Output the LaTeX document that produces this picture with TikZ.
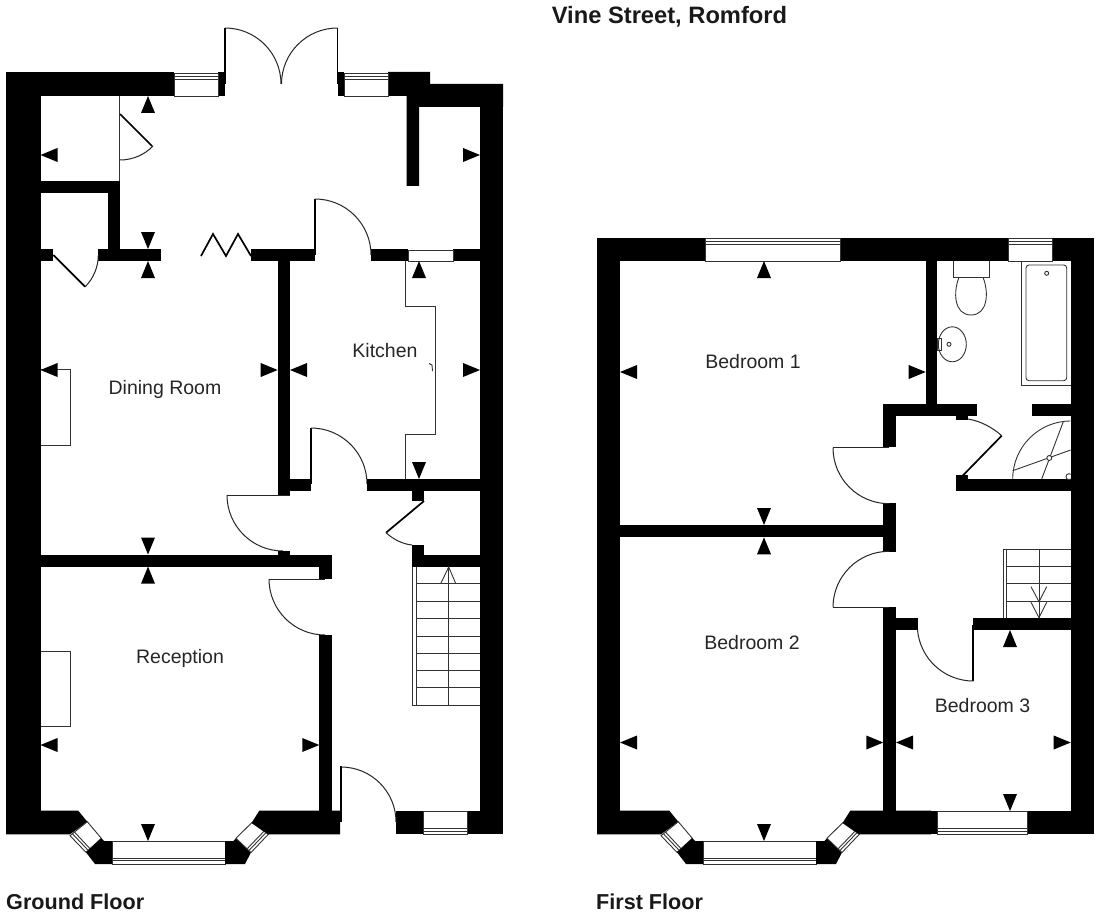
\documentclass[tikz,border=0pt]{standalone}
\usepackage{fontspec}
\setmainfont{Liberation Sans}
\usetikzlibrary{calc}
\tikzset{
  wall/.style={fill=black,draw=none},
  fine/.style={draw=black!80,line width=0.9pt},
  doorarc/.style={draw=black!85,line width=1pt},
  leaf/.style={draw=black,line width=1.7pt},
  zig/.style={draw=black,line width=1.7pt,line join=miter},
  markhead/.style={fill=black,draw=none},
  roomlabel/.style={inner sep=0pt,text=black!85,font=\fontsize{19.5}{22}\selectfont},
  floorlabel/.style={inner sep=0pt,anchor=west,text=black!90,font=\bfseries\fontsize{21.6}{24}\selectfont},
}
% wall rectangle
\newcommand\wl[4]{\fill[wall] (#1,#2) rectangle (#3,#4);}
% sight-line arrowhead: tip x, tip y, direction
\newcommand\hd[3]{\fill[markhead,shift={(#1,#2)},rotate=#3] (0,0) -- (-17,-7) -- (-17,7) -- cycle;}
% door swing: centre x, centre y, radius, from angle, to angle
\newcommand\sw[5]{\draw[doorarc] (#1,#2) ++(#4:#3) arc[start angle=#4,end angle=#5,radius=#3];}
% window: inner edge A B, outer edge D C (A-D, B-C are the jambs)
\newcommand\win[4]{%
  \draw[fine,fill=white] #1 -- #2 -- #3 -- #4 -- cycle;
  \draw[fine] ($#1!0.74!#4$) -- ($#2!0.74!#3$);
  \draw[fine] ($#1!0.86!#4$) -- ($#2!0.86!#3$);
}
% bay of the front room
\newcommand\bay{%
  \fill[wall] (6,810.7) -- (78.3,810.7) -- (87.3,821.7) -- (70,834.3) -- (6,834.3) -- cycle;
  \win{(87.3,821.7)}{(101.3,838.3)}{(86,852.3)}{(70,835.7)}
  \fill[wall] (101.3,838.3) -- (104.3,841) -- (112.7,841) -- (112.7,864) -- (95,864) -- (86,852.3) -- cycle;
  \win{(112.7,841)}{(225,841)}{(225,864)}{(112.7,864)}
  \fill[wall] (225,841) -- (233.4,841) -- (236,838.3) -- (251,852.5) -- (245,864) -- (225,864) -- cycle;
  \win{(251.7,822.7)}{(236,838.3)}{(251,852.5)}{(268.3,834.3)}
  \fill[wall] (259.3,810.7) -- (251.7,822.7) -- (268.3,834.3) -- (340,834.3) -- (340,810.7) -- cycle;
}
\begin{document}
\begin{tikzpicture}[x=1pt,y=-1pt]
\useasboundingbox (0,0) rectangle (1100,920);
\fill[white] (0,0) rectangle (1100,920);

% ===== GROUND FLOOR =====
\wl{6}{72}{40.5}{834.3}
\wl{40}{72}{174}{96}
\wl{218}{72}{225}{96}
\wl{337.5}{72}{344}{96}
\fill[wall] (388,72) -- (430,72) -- (430,84) -- (503,84) -- (503,107) -- (419,107) -- (419,186) -- (406.5,186) -- (406.5,96) -- (388,96) -- cycle;
\wl{480}{84}{503}{834.3}
\win{(174,96)}{(218,96)}{(218,73)}{(174,73)}
\win{(344,96)}{(388,96)}{(388,73)}{(344,73)}
% double doors
\draw[leaf] (225,84) -- (225,28);
\draw[leaf] (337.5,84) -- (337.5,28);
\sw{225}{84}{56}{-90}{0}
\sw{337.5}{84}{56}{-90}{-180}
% cupboards
\draw[fine] (119.5,96) -- (119.5,181);
\wl{40}{181}{120}{193.5}
\wl{107.7}{181}{120}{261}
\wl{40}{249}{53.3}{261}
\wl{97.7}{249}{161}{261}
\draw[leaf] (120,114) -- (152,146);
\sw{120}{114}{46}{90}{44}
\draw[leaf] (53.3,255) -- (85,286.7);
\sw{53.3}{255}{45}{45}{0}
% bifold
\draw[zig] (201,256) -- (213,234) -- (226,256) -- (238,234) -- (251,256);
% dining / kitchen walls
\wl{250.7}{249}{315}{261}
\wl{277.7}{261}{290}{495}
\wl{290}{479}{311}{490.7}
\wl{371}{249}{408.3}{261}
\wl{453}{249}{480}{261}
\draw[fine,fill=white] (408.3,250) rectangle (453,261);
\draw[leaf] (315,255) -- (315,198.7);
\sw{315}{255}{56}{-90}{0}
\draw[leaf] (311,484) -- (311,428);
\sw{311}{484}{56}{-90}{0}
\wl{366.7}{479}{480}{490.7}
\wl{411.7}{490}{424}{501}
\draw[leaf] (424,501) -- (386,532.7);
\draw[doorarc] (386,532.7) .. controls (393,539) and (402,544) .. (412,545);
\wl{412}{545}{424}{566.6}
\wl{412}{554.5}{480}{566.6}
% hall doors
\draw[doorarc] (226.7,495) -- (290,495);
\sw{283}{495}{56}{180}{90}
\wl{278}{551}{290}{555}
\wl{40}{554.5}{331.5}{566.6}
\wl{319.3}{566}{331.5}{579}
\draw[doorarc] (268.7,579) -- (325,579);
\sw{325}{579}{56}{180}{90}
\wl{319.3}{635}{331.5}{811}
% bay & front
\bay
\wl{396}{811}{423}{834.3}
\wl{467}{811}{503}{834.3}
\win{(423,811)}{(467,811)}{(467,834.3)}{(423,834.3)}
\draw[leaf] (341,822) -- (341,766);
\sw{341}{822}{55}{-90}{0}
% kitchen worktop
\draw[fine] (405,261) -- (405,306) -- (435,306) -- (435,434) -- (405,434) -- (405,479);
\draw[fine] (429,363.5) -- (432,365) -- (432.5,371);
% fireplaces
\draw[fine] (40.5,651) -- (70.7,651) -- (70.7,726.3) -- (40.5,726.3);
\draw[fine] (40.5,369) -- (70.7,369) -- (70.7,445) -- (40.5,445);
% stairs
\draw[fine] (412.3,566.6) -- (412.3,705) -- (480,705);
\draw[fine] (416.3,566.6) -- (416.3,705);
\foreach \ty in {583.3,601,618.3,636,653.3,670.7,687.3}
  \draw[fine] (416.3,\ty) -- (480,\ty);
\draw[fine] (448.7,705) -- (448.7,567);
\draw[fine] (441,583) -- (448.7,567) -- (455.5,583);
% sight marks
\hd{148}{96}{90}
\hd{40.5}{155}{180}
\hd{480}{155}{0}
\hd{148}{249}{-90}
\hd{148}{261}{90}
\hd{419}{261}{90}
\hd{277.7}{370}{0}
\hd{290}{370}{180}
\hd{480}{370}{0}
\hd{419}{479}{-90}
\hd{40.5}{370}{180}
\hd{148}{554.5}{-90}
\hd{148}{566.6}{90}
\hd{40.5}{745}{180}
\hd{319.3}{745}{0}
\hd{148}{841}{-90}

% ===== FIRST FLOOR =====
\wl{596.7}{237.7}{620}{834.3}
\wl{620}{237.7}{705}{261}
\wl{840}{237.7}{1008.3}{261}
\wl{1052.7}{237.7}{1094.3}{261}
\wl{1070.7}{237.7}{1094.3}{834.3}
\win{(705,261)}{(840,261)}{(840,238)}{(705,238)}
\win{(1008.3,261)}{(1052.7,261)}{(1052.7,238)}{(1008.3,238)}
\begin{scope}[xshift=591pt]
\bay
\end{scope}
\wl{931}{810.7}{937.3}{834.3}
\wl{1027}{810.7}{1094.3}{834.3}
\win{(937.3,811)}{(1027,811)}{(1027,834.3)}{(937.3,834.3)}
% internal walls
\wl{925.7}{261}{937.3}{404}
\wl{883.3}{404}{976.7}{416}
\wl{1031.7}{404}{1070.7}{416}
\wl{883.3}{404}{895.7}{447}
\wl{883.3}{503.3}{895.7}{552}
\wl{620}{525}{883.3}{537.3}
\wl{883.3}{607}{895.7}{811}
\wl{895.7}{618.3}{917.7}{630}
\wl{973.3}{618.3}{1070.7}{630}
\wl{955.7}{416}{968}{419.5}
\wl{955.7}{475}{968}{491}
\wl{955.7}{479}{1070.7}{491}
% doors
\draw[doorarc] (833,447.7) -- (889,447.7);
\sw{889}{447.7}{56}{180}{90}
\draw[doorarc] (833,607.3) -- (889,607.3);
\sw{889}{607.3}{56}{180}{270}
\draw[leaf] (973.3,625) -- (973.3,680.7);
\sw{973.3}{625}{56}{175}{90}
\draw[leaf] (1001.7,435.7) -- (961.7,476.7);
\draw[doorarc] (968,419) .. controls (980,421) and (992,427) .. (1001.7,435.7);
% shower
\begin{scope}
\clip (1000,416) rectangle (1070.7,479);
\draw[fine] (1070.7,479) ++(180:58) arc[start angle=180,end angle=270,radius=58];
\draw[fine] (1063.3,421.7) -- (1041.7,479);
\draw[fine] (1012.7,470.7) -- (1070.7,450);
\draw[fine,fill=white] (1069,476.7) circle[radius=3];
\end{scope}
\draw[fine,fill=white] (1049.3,458) circle[radius=2.5];
% bath
\draw[fine] (1070.7,385.7) -- (1021.7,385.7) -- (1021.7,261);
\draw[fine,rounded corners=3pt] (1026,265) rectangle (1066.7,380.7);
\draw[fine] (1046.7,273.3) circle[radius=2];
% wc
\draw[fine] (953.3,261) -- (953.3,277.3) -- (989.3,277.3) -- (989.3,261);
\draw[fine] (959,277.3) .. controls (953,292) and (954,315) .. (971,315) .. controls (988,315) and (989,292) .. (983,277.3);
% basin
\draw[fine] (952.3,344.3) ellipse[x radius=14,y radius=17.5];
\draw[fine] (937.3,338) rectangle (941,350);
\draw[fine] (949,344.3) circle[radius=2];
% stairs
\draw[fine] (1070.7,549) -- (1003.3,549) -- (1003.3,618.3);
\draw[fine] (1006.7,549) -- (1006.7,618.3);
\foreach \ty in {566.3,583.7,601}
  \draw[fine] (1006.7,\ty) -- (1070.7,\ty);
\draw[fine] (1039,549) -- (1039,618);
\draw[fine] (1031,602.3) -- (1039,617.7) -- (1046.7,602.3);
\draw[fine] (1031,586.7) -- (1039,601.7) -- (1046.7,586.7);
% sight marks
\hd{764}{261}{90}
\hd{620}{372}{180}
\hd{925.7}{372}{0}
\hd{764}{525}{-90}
\hd{764}{537.3}{90}
\hd{620}{742.5}{180}
\hd{883.3}{742.5}{0}
\hd{896}{742.5}{180}
\hd{764}{841}{-90}
\hd{1010}{630}{90}
\hd{1070.7}{742.5}{0}
\hd{1010}{811}{-90}

% ===== LABELS =====
\node[inner sep=0pt,text=black!90,font=\bfseries\fontsize{23.7}{26}\selectfont] (title) at (669.5,16.5) {Vine Street, Romford};
\node[roomlabel] (kitchen) at (385,351) {Kitchen};
\node[roomlabel] (dining) at (165,389.5) {Dining Room};
\node[roomlabel] (reception) at (180,658) {Reception};
\node[roomlabel] (bedone) at (753,362) {Bedroom 1};
\node[roomlabel] (bedtwo) at (752,643) {Bedroom 2};
\node[roomlabel] (bedthree) at (982.5,706) {Bedroom 3};
\node[floorlabel] (ground) at (6,902) {Ground Floor};
\node[floorlabel] (first) at (596,902) {First Floor};
\end{tikzpicture}
\end{document}
